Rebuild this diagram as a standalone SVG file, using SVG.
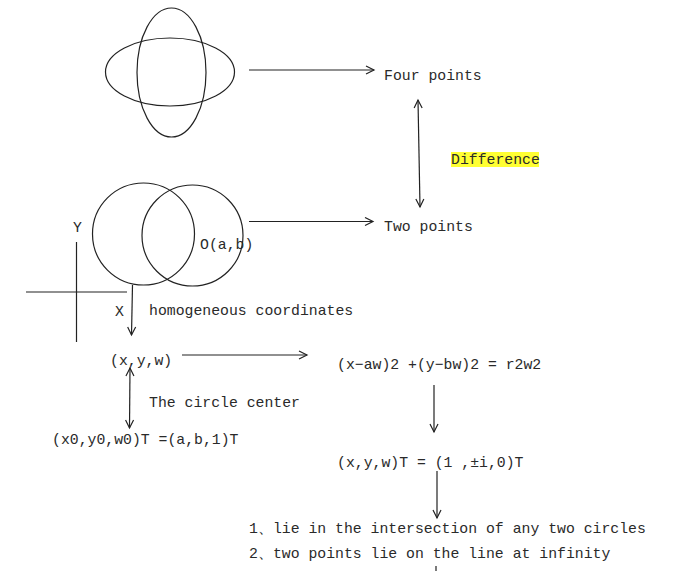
<svg xmlns="http://www.w3.org/2000/svg" width="685" height="571" viewBox="0 0 685 571">
<style>
.t{font-family:"Liberation Mono","Courier New",monospace;font-size:14.8px;fill:#2a2a2a}
.s{fill:none;stroke:#222;stroke-width:1.2}
.c{stroke:#222;stroke-width:1.2;fill:none}
</style>
<defs>
<marker id="ah" markerWidth="12" markerHeight="12" refX="10" refY="5" orient="auto-start-reverse" markerUnits="userSpaceOnUse">
<path d="M2,1 L10,5 L2,9" fill="none" stroke="#222" stroke-width="1.2"/>
</marker>
</defs>
<rect width="685" height="571" fill="#fff"/>
<g id="ellipses">
<ellipse class="s" cx="170" cy="72" rx="64.5" ry="34"/>
<ellipse class="s" cx="171.5" cy="72.5" rx="34.5" ry="64.5"/>
</g>
<g id="circles">
<circle class="s" cx="143.5" cy="234" r="51"/>
<circle class="s" cx="192.5" cy="235.5" r="50.5"/>
<text class="t" x="200" y="249">O(a,b)</text>
</g>
<g id="axes">
<line class="c" x1="76.5" y1="242" x2="76.5" y2="342"/>
<line class="c" x1="26" y1="292" x2="127" y2="292"/>
<text class="t" x="73" y="232">Y</text>
<text class="t" x="115" y="316">X</text>
</g>
<g id="four"><text class="t" x="384" y="80">Four points</text></g>
<g id="diff">
<rect x="451" y="152" width="88" height="15" fill="#ffff33"/>
<text class="t" x="451" y="164">Difference</text>
</g>
<g id="two"><text class="t" x="384" y="231">Two points</text></g>
<g id="homog"><text class="t" x="149" y="315">homogeneous coordinates</text></g>
<g id="xyw"><text class="t" x="110" y="365">(x,y,w)</text></g>
<g id="center"><text class="t" x="149" y="407">The circle center</text></g>
<g id="x0"><text class="t" x="52" y="444">(x0,y0,w0)T =(a,b,1)T</text></g>
<g id="eq"><text class="t" x="337" y="369">(x−aw)2 +(y−bw)2 = r2w2</text></g>
<g id="pts"><text class="t" x="337" y="467">(x,y,w)T = (1 ,±i,0)T</text></g>
<g id="res">
<text class="t" x="249" y="533">1、lie in the intersection of any two circles</text>
<text class="t" x="249" y="558">2、two points lie on the line at infinity</text>
</g>
<g id="connectors">
<line class="c" x1="249" y1="70" x2="374" y2="70" marker-end="url(#ah)"/>
<line class="c" x1="418" y1="100" x2="420" y2="207" marker-start="url(#ah)" marker-end="url(#ah)"/>
<line class="c" x1="249" y1="221.5" x2="373" y2="221.5" marker-end="url(#ah)"/>
<line class="c" x1="132.5" y1="285" x2="131.5" y2="335" marker-end="url(#ah)"/>
<line class="c" x1="182" y1="355" x2="307" y2="355" marker-end="url(#ah)"/>
<line class="c" x1="130" y1="368" x2="129.5" y2="428" marker-start="url(#ah)" marker-end="url(#ah)"/>
<line class="c" x1="434" y1="385" x2="434" y2="432" marker-end="url(#ah)"/>
<line class="c" x1="437" y1="471" x2="437" y2="518" marker-end="url(#ah)"/>
<line class="c" x1="436" y1="566" x2="436" y2="571"/>
</g>
</svg>
